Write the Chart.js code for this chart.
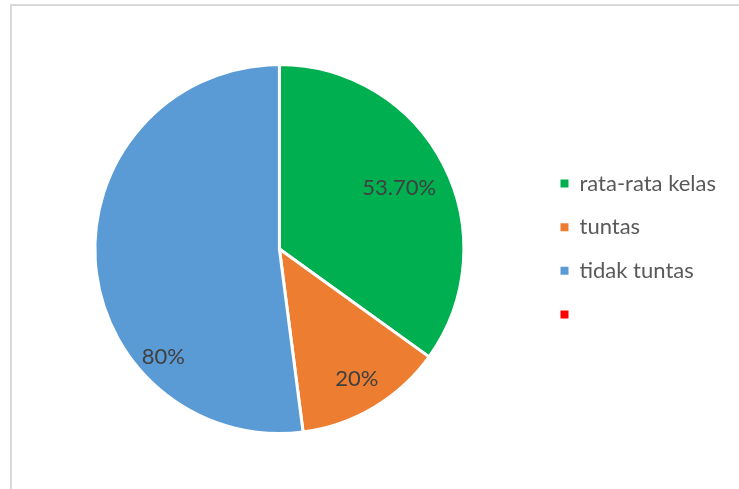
<!DOCTYPE html>
<html>
<head>
<meta charset="utf-8">
<script src="https://cdn.jsdelivr.net/npm/chart.js@4/dist/chart.umd.min.js"></script>
<style>
  html, body { margin: 0; padding: 0; background: #ffffff; }
  #wrap { position: relative; width: 739px; height: 489px; overflow: hidden; }
  #frame {
    position: absolute; left: 10px; top: 4px; width: 900px; height: 700px;
    border-top: 2px solid #d9d9d9; border-left: 2px solid #d9d9d9;
    pointer-events: none;
  }
  canvas { position: absolute; left: 0; top: 0; }
</style>
</head>
<body>
<div id="wrap">
  <div id="frame"></div>
  <canvas id="chart" width="739" height="489"></canvas>
</div>
<script>
// Categories and values
const categories = ['rata-rata kelas', 'tuntas', 'tidak tuntas', ''];
const values = [53.7, 20, 80, 0];
const valueLabels = ['53.70%', '20%', '80%', ''];
const sliceColors = ['#00b050', '#ed7d31', '#5b9bd5', '#ff0000'];

// Where each value label sits inside its slice:
// fraction along the slice's sweep, fraction of the outer radius
const labelPlacement = [
  { along: 0.5, radius: 0.73 },
  { along: 0.5, radius: 0.82 },
  { along: 0.29, radius: 0.86 },
  { along: 0.5, radius: 0.7 }
];

const labelFont = 'Lato, "Open Sans", sans-serif';

const sliceLabels = {
  id: 'sliceLabels',
  afterDatasetsDraw(chart) {
    const meta = chart.getDatasetMeta(0);
    const ctx = chart.ctx;
    ctx.save();
    ctx.fillStyle = '#404040';
    ctx.font = '22px ' + labelFont;
    ctx.textAlign = 'center';
    ctx.textBaseline = 'middle';
    meta.data.forEach((arc, i) => {
      if (!values[i] || !valueLabels[i]) return;
      const p = arc.getProps(['x', 'y', 'startAngle', 'endAngle', 'outerRadius'], true);
      const place = labelPlacement[i];
      const a = p.startAngle + place.along * (p.endAngle - p.startAngle);
      const r = place.radius * p.outerRadius;
      ctx.fillText(valueLabels[i], p.x + Math.cos(a) * r, p.y + Math.sin(a) * r);
    });
    ctx.restore();
  }
};

new Chart(document.getElementById('chart'), {
  type: 'pie',
  data: {
    labels: categories,
    datasets: [{
      data: values,
      backgroundColor: sliceColors,
      borderColor: '#ffffff',
      borderWidth: 3
    }]
  },
  options: {
    responsive: false,
    animation: false,
    events: [],
    layout: { padding: { left: 20, right: 13, top: 63, bottom: 54 } },
    plugins: {
      tooltip: { enabled: false },
      legend: {
        position: 'right',
        align: 'center',
        labels: {
          boxWidth: 8,
          boxHeight: 8,
          padding: 21.7,
          color: '#595959',
          font: { family: labelFont, size: 22 },
          // solid legend squares, without the slices' white outline
          generateLabels(chart) {
            const base = Chart.overrides.pie.plugins.legend.labels.generateLabels(chart);
            return base.map(item => Object.assign(item, { lineWidth: 0, strokeStyle: item.fillStyle }));
          }
        }
      }
    }
  },
  plugins: [sliceLabels]
});
</script>
</body>
</html>
